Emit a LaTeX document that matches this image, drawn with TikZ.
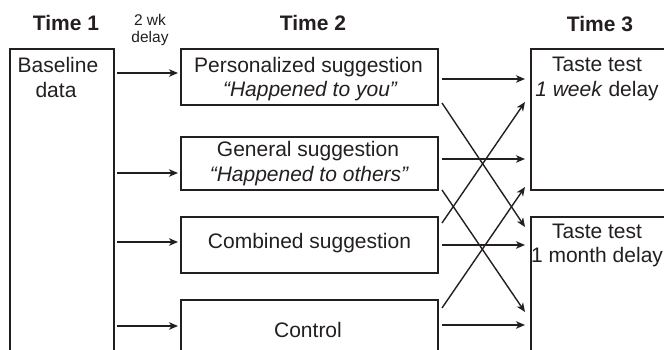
\documentclass[tikz,border=0pt]{standalone}
\usepackage{fontspec}
\setmainfont{Liberation Sans}
\usetikzlibrary{arrows.meta}
\definecolor{ink}{RGB}{35,31,32}
\begin{document}
\begin{tikzpicture}[x=1pt,y=-1pt,
  box/.style={draw=ink,line width=2pt,inner sep=0pt,outer sep=0pt,rectangle},
  txt/.style={anchor=base,inner sep=0pt,text=ink,font=\fontsize{21}{25}\selectfont},
  head/.style={txt,font=\fontsize{21}{25}\selectfont\bfseries},
  small/.style={txt,font=\fontsize{15.5}{18}\selectfont},
  arr/.style={draw=ink,line width=1.4pt,-{Stealth[length=9pt,width=7.5pt,inset=2.5pt]}}]
\useasboundingbox (0,0) rectangle (664,350);
\clip (0,0) rectangle (664,350);
% boxes
\node[box,minimum width=104pt,minimum height=331pt] (base) at (62,214.5) {};
\node[box,minimum width=257pt,minimum height=56pt] (p) at (309.5,77) {};
\node[box,minimum width=257pt,minimum height=53pt] (g) at (309.5,163.5) {};
\node[box,minimum width=257pt,minimum height=56pt] (c) at (309.5,245) {};
\node[box,minimum width=257pt,minimum height=80pt] (ctl) at (309.5,340) {};
\node[box,minimum width=169pt,minimum height=141pt] (t1) at (615.5,119.5) {};
\node[box,minimum width=169pt,minimum height=163pt] (t2) at (615.5,298.5) {};
% headers
\node[head] (h1) at (66,31) {Time 1};
\node[head] (h2) at (313,31) {Time 2};
\node[head] (h3) at (600,32) {Time 3};
\node[small] (d1) at (150,26) {2 wk};
\node[small] (d2) at (150,43) {delay};
% box texts
\node[txt] (b1) at (58,73) {Baseline};
\node[txt] (b2) at (56,98) {data};
\node[txt] (p1) at (308.5,73) {Personalized suggestion};
\node[txt] (p2) at (310,97) {\itshape “Happened to you”};
\node[txt] (g1) at (308,157) {General suggestion};
\node[txt] (g2) at (309,181) {\itshape “Happened to others”};
\node[txt] (c1) at (309.5,248) {Combined suggestion};
\node[txt] (k1) at (308,337) {Control};
\node[txt] (s1) at (597,72) {Taste test};
\node[txt] (s2) at (597,97) {\textit{1 week} delay};
\node[txt] (u1) at (597,238) {Taste test};
\node[txt] (u2) at (597,262) {1 month delay};
% left arrows
\draw[arr] ([xshift=3pt]base.east |- 0,73) -- ([xshift=-3pt]p.west |- 0,73);
\draw[arr] ([xshift=3pt]base.east |- 0,173) -- ([xshift=-3pt]g.west |- 0,173);
\draw[arr] ([xshift=3pt]base.east |- 0,242) -- ([xshift=-3pt]c.west |- 0,242);
\draw[arr] ([xshift=3pt]base.east |- 0,326) -- ([xshift=-3pt]ctl.west |- 0,326);
% right horizontal arrows
\draw[arr] ([xshift=4pt]p.east |- 0,79) -- ([xshift=-6pt]t1.west |- 0,79);
\draw[arr] ([xshift=4pt]g.east |- 0,159) -- ([xshift=-6pt]t1.west |- 0,159);
\draw[arr] ([xshift=4pt]c.east |- 0,245) -- ([xshift=-6pt]t2.west |- 0,245);
\draw[arr] ([xshift=4pt]ctl.east |- 0,325) -- ([xshift=-6pt]t2.west |- 0,325);
% diagonal arrows
\draw[arr] ([xshift=4pt]p.east |- 0,103) -- ([xshift=-6pt]t2.west |- 0,227);
\draw[arr] ([xshift=4pt]g.east |- 0,190) -- ([xshift=-6pt]t2.west |- 0,312);
\draw[arr] ([xshift=4pt]c.east |- 0,223) -- ([xshift=-6pt]t1.west |- 0,102);
\draw[arr] ([xshift=4pt]ctl.east |- 0,308) -- ([xshift=-6pt]t1.west |- 0,187);
\end{tikzpicture}
\end{document}
